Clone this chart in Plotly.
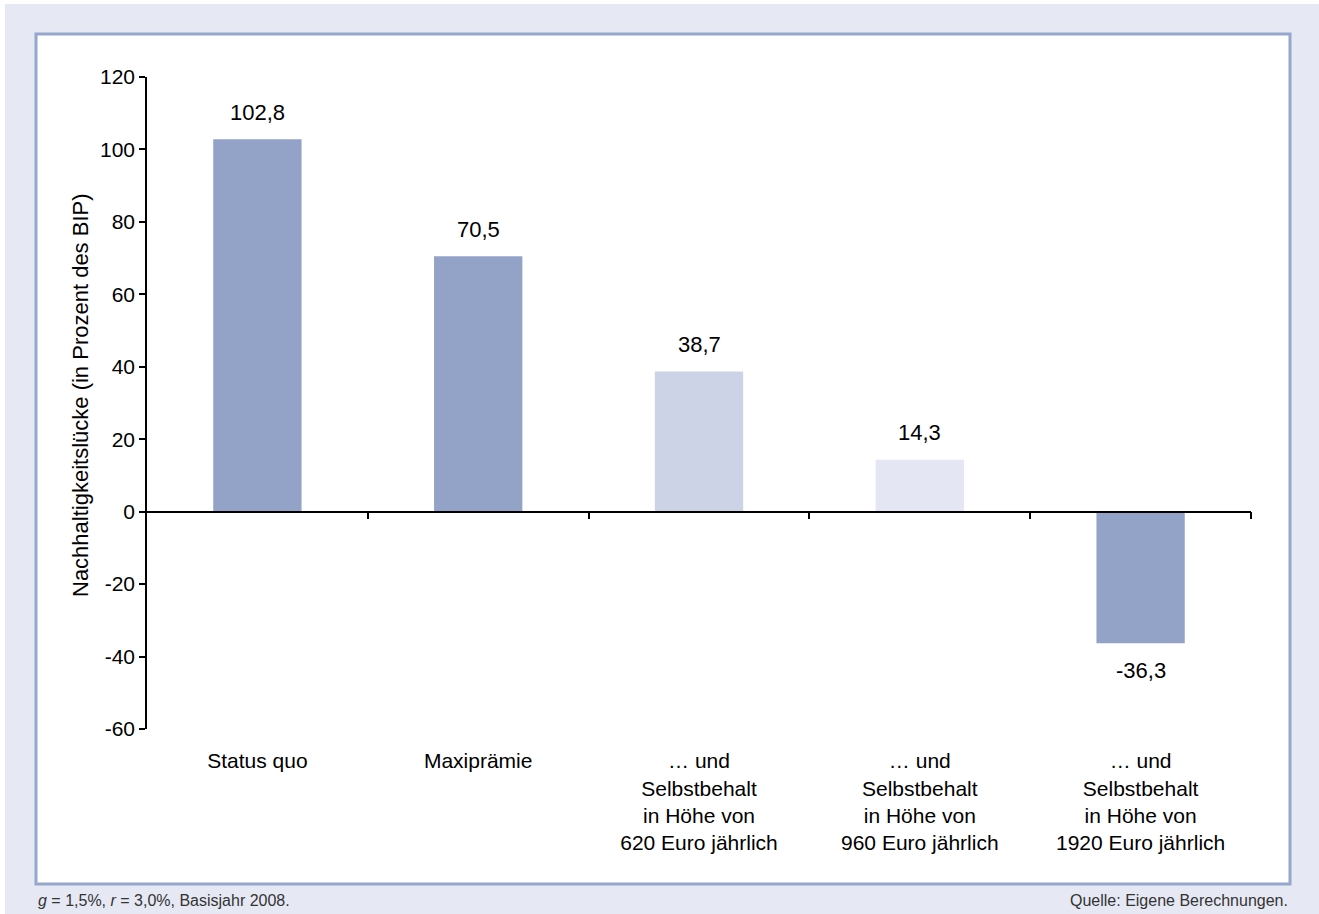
import plotly.graph_objects as go

categories = [
    "Status quo",
    "Maxiprämie",
    "… und<br>Selbstbehalt<br>in Höhe von<br>620 Euro jährlich",
    "… und<br>Selbstbehalt<br>in Höhe von<br>960 Euro jährlich",
    "… und<br>Selbstbehalt<br>in Höhe von<br>1920 Euro jährlich",
]
values = [102.8, 70.5, 38.7, 14.3, -36.3]
bar_colors = ["#93A3C8", "#93A3C8", "#CDD3E6", "#E4E7F3", "#93A3C8"]
y_ticks = [-60, -40, -20, 0, 20, 40, 60, 80, 100, 120]
y_ticktext = [str(v) for v in y_ticks]
y_title = "Nachhaltigkeitslücke (in Prozent des BIP)"
note_left = "<i>g</i> = 1,5%, <i>r</i> = 3,0%, Basisjahr 2008."
note_right = "Quelle: Eigene Berechnungen."

W, H = 1319, 914
L, R, T, B = 147, 1251, 77, 729  # plot area in pixels

def px_x(x):
    return (x - L) / (R - L)

def px_y(y):
    return (B - y) / (B - T)

FONT = "Liberation Sans, Arial, Helvetica, sans-serif"

fig = go.Figure()
fig.add_trace(go.Bar(
    x=categories, y=values, marker=dict(color=bar_colors, line=dict(width=0)),
    width=0.4, hoverinfo="skip", showlegend=False,
))
# dummy trace for the zero-line axis
fig.add_trace(go.Scatter(x=[], y=[], xaxis="x2", showlegend=False))

n = len(categories)
boundaries = [i + 0.5 for i in range(n)]
ymin, ymax = y_ticks[0], y_ticks[-1]
zero_pos = (0 - ymin) / (ymax - ymin)

annotations = []
for c, v in zip(categories, values):
    annotations.append(dict(
        x=c, y=v, xref="x", yref="y", text=f"{v:.1f}".replace(".", ","),
        showarrow=False, yanchor="middle", yshift=27 if v >= 0 else -27,
        font=dict(size=22, color="#000", family=FONT),
    ))
annotations.append(dict(
    x=px_x(80), y=px_y(395), xref="paper", yref="paper", text=y_title,
    xanchor="center", yanchor="middle",
    textangle=-90, showarrow=False, font=dict(size=22, color="#000", family=FONT),
))
annotations.append(dict(
    x=px_x(36), y=px_y(900), xref="paper", yref="paper", text=note_left,
    xanchor="left", yanchor="middle", showarrow=False,
    font=dict(size=16, color="#333", family=FONT),
))
annotations.append(dict(
    x=px_x(1290), y=px_y(900), xref="paper", yref="paper", text=note_right,
    xanchor="right", yanchor="middle", showarrow=False,
    font=dict(size=16, color="#333", family=FONT),
))

shapes = [
    dict(type="rect", xref="paper", yref="paper", layer="below",
         x0=px_x(5), x1=px_x(W + 5), y0=px_y(4), y1=px_y(H + 5),
         fillcolor="#E6E9F4", line=dict(width=0)),
    dict(type="rect", xref="paper", yref="paper", layer="below",
         x0=px_x(36), x1=px_x(1290), y0=px_y(34), y1=px_y(884),
         fillcolor="#FFFFFF", line=dict(color="#96A6CC", width=3)),
]

fig.update_layout(
    width=W, height=H,
    margin=dict(l=L, r=W - R, t=T, b=H - B, pad=0),
    paper_bgcolor="#FFFFFF", plot_bgcolor="rgba(0,0,0,0)",
    font=dict(family=FONT, size=21, color="#000"),
    bargap=0.6,
    xaxis=dict(
        type="category", showline=False, showgrid=False, zeroline=False,
        ticks="outside", ticklen=13, tickcolor="rgba(0,0,0,0)",
        tickfont=dict(size=21, color="#000"), fixedrange=True,
    ),
    xaxis2=dict(
        overlaying="x", anchor="free", position=zero_pos,
        range=[-0.5, n - 0.5], showline=True, linecolor="#000", linewidth=1.5,
        showgrid=False, zeroline=False, tickmode="array", tickvals=boundaries,
        ticks="outside", ticklen=7, tickwidth=1.5, tickcolor="#000",
        showticklabels=False,
    ),
    yaxis=dict(
        range=[ymin, ymax], tickmode="array", tickvals=y_ticks, ticktext=y_ticktext,
        showline=True, linecolor="#000", linewidth=1.5, ticks="outside", ticklen=6,
        tickwidth=1.5, tickcolor="#000", showgrid=False, zeroline=False,
        tickfont=dict(size=21, color="#000"),
    ),
    annotations=annotations, shapes=shapes,
)

fig.write_html(
    "out.html",
    config={"displayModeBar": False},
    post_script="document.body.style.margin='0';document.body.style.padding='0';",
)
